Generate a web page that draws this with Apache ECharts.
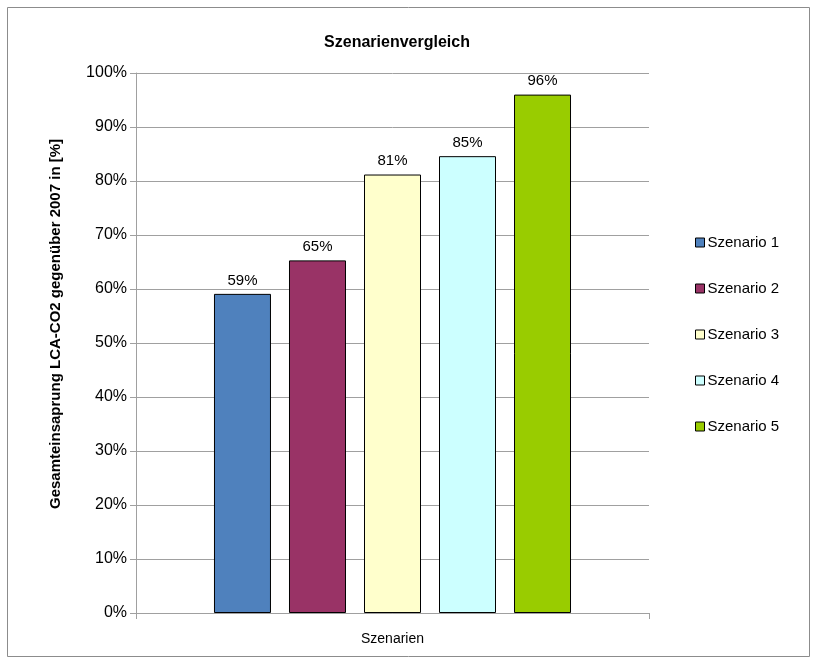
<!DOCTYPE html>
<html><head><meta charset="utf-8">
<script src="https://cdn.jsdelivr.net/npm/echarts@6/dist/echarts.min.js"></script>
<style>html,body{margin:0;padding:0;background:#fff}#c{width:817px;height:665px}</style>
</head><body><div id="c"></div>
<script>
const categories = ['Szenarien'];
const seriesNames = ['Szenario 1','Szenario 2','Szenario 3','Szenario 4','Szenario 5'];
const seriesValues = [59.1, 65.3, 81.2, 84.6, 96.0];
const seriesColors = ['#4f81bd','#993366','#ffffcc','#ccffff','#99cc00'];
const yTicks = [0,10,20,30,40,50,60,70,80,90,100];
const FONT = 'Liberation Sans, Arial, sans-serif';

const chart = echarts.init(document.getElementById('c'));
chart.setOption({
  animation: false,
  backgroundColor: '#fff',
  textStyle: {fontFamily: FONT},
  title: {text: 'Szenarienvergleich', left: 392, top: 30, textAlign: 'center',
    textStyle: {fontFamily: FONT, fontSize: 16, fontWeight: 'bold', color: '#000'}},
  graphic: [
    {type: 'rect', shape: {x: 7.5, y: 7.5, width: 802, height: 649},
      style: {fill: 'none', stroke: '#8c8c8c', lineWidth: 1}, silent: true},
    {type: 'text', x: 56, y: 324, rotation: Math.PI / 2, silent: true,
      style: {text: 'Gesamteinsaprung LCA-CO2 gegenüber 2007 in [%]', fontFamily: FONT, fontSize: 15,
        fontWeight: 'bold', fill: '#000', textAlign: 'center', textVerticalAlign: 'middle'}}
  ],
  legend: {orient: 'vertical', left: 690, top: 230, itemWidth: 9, itemHeight: 9, itemGap: 31,
    icon: 'rect', textStyle: {fontFamily: FONT, fontSize: 15, color: '#000', padding: [0,0,0,-2]},
    data: seriesNames.map((n,i)=>({name:n, itemStyle:{color:seriesColors[i], borderColor:'#000', borderWidth:1}}))},
  grid: {left: 136, right: 168, top: 73, bottom: 52},
  xAxis: {type: 'category', data: categories,
    name: 'Szenarien', nameLocation: 'middle', nameGap: 19,
    nameTextStyle: {fontFamily: FONT, fontSize: 14, color: '#000'},
    axisLabel: {show: false},
    axisLine: {lineStyle: {color: '#a0a0a0'}},
    axisTick: {show: true, length: 6, lineStyle: {color: '#a0a0a0'}}},
  yAxis: {type: 'value', min: 0, max: 100, interval: 10,
    axisLabel: {formatter: v => yTicks.includes(v) ? v + '%' : '', fontFamily: FONT, fontSize: 16, color: '#000', margin: 9},
    axisLine: {show: true, lineStyle: {color: '#a0a0a0'}},
    axisTick: {show: true, length: 6, lineStyle: {color: '#a0a0a0'}},
    splitLine: {lineStyle: {color: '#a0a0a0'}}},
  series: seriesNames.map((n,i)=>({
    name: n, type: 'bar', barWidth: 57, barGap: '31.6%',
    data: [seriesValues[i]],
    itemStyle: {color: seriesColors[i], borderColor: '#000', borderWidth: 1},
    label: {show: true, position: 'top', distance: 6, formatter: p => Math.round(p.value) + '%',
      fontFamily: FONT, fontSize: 15, color: '#000'}
  }))
});
</script></body></html>
